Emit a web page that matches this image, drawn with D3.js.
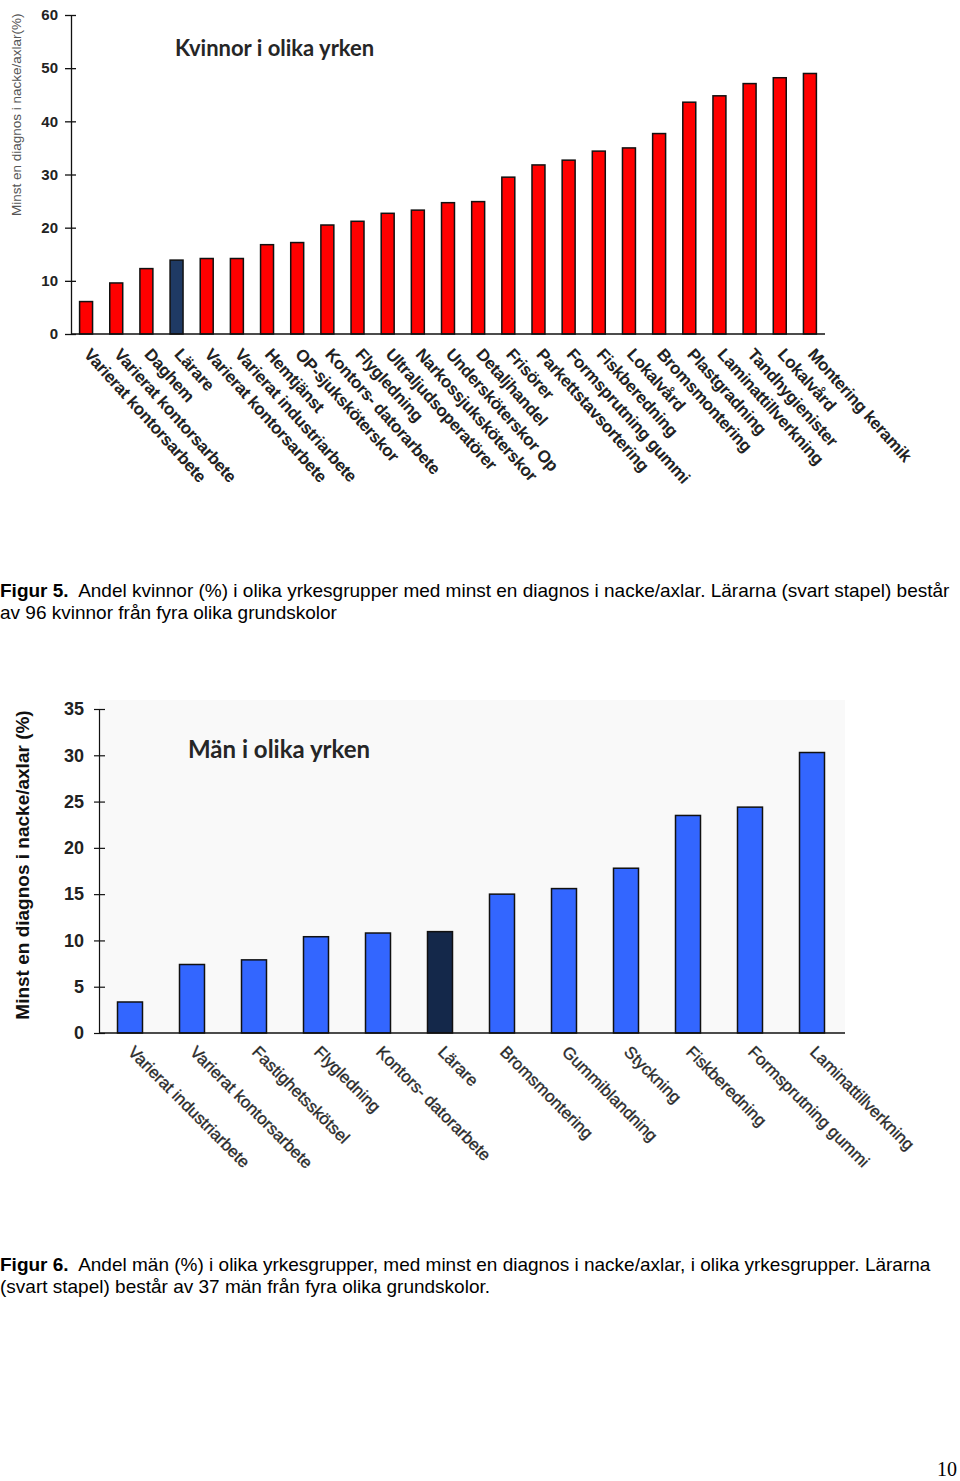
<!DOCTYPE html>
<html><head><meta charset="utf-8">
<script src="https://cdn.jsdelivr.net/npm/d3@7"></script>
<style>body{margin:0;background:#fff;} svg{display:block;}</style>
</head><body>
<svg id="c" width="960" height="1481"></svg>
<script>
// ---------- Data ----------
const womenCategories = ["Varierat kontorsarbete","Varierat kontorsarbete","Daghem","Lärare","Varierat kontorsarbete","Varierat industriarbete","Hemtjänst","OP-sjuksköterskor","Kontors- datorarbete","Flygledning","Ultraljudsoperatörer","Narkossjuksköterskor","Undersköterskor Op","Detaljhandel","Frisörer","Parkettstavsortering","Formsprutning gummi","Fiskberedning","Lokalvård","Bromsmontering","Plastgradning","Laminattillverkning","Tandhygienister","Lokalvård","Montering keramik"];
const womenValues = [6.1,9.6,12.3,13.9,14.2,14.2,16.8,17.2,20.5,21.2,22.7,23.3,24.7,24.9,29.5,31.8,32.7,34.4,35.0,37.7,43.6,44.8,47.1,48.2,49.0];
const womenTicks = [0,10,20,30,40,50,60];
const womenTitle = "Kvinnor i olika yrken";
const womenYLabel = "Minst en diagnos i nacke/axlar(%)";

const menCategories = ["Varierat industriarbete","Varierat kontorsarbete","Fastighetsskötsel","Flygledning","Kontors- datorarbete","Lärare","Bromsmontering","Gummiblandning","Styckning","Fiskberedning","Formsprutning gummi","Laminattillverkning"];
const menValues = [3.35,7.4,7.9,10.4,10.8,10.95,15.0,15.6,17.8,23.5,24.4,30.3];
const menTicks = [0,5,10,15,20,25,30,35];
const menTitle = "Män i olika yrken";
const menYLabel = "Minst en diagnos i nacke/axlar (%)";

const highlightCategory = "Lärare";

const caption5 = ["Figur 5.", "  Andel kvinnor (%) i olika yrkesgrupper med minst en diagnos i nacke/axlar. Lärarna (svart stapel) består", "av 96 kvinnor från fyra olika grundskolor"];
const caption6 = ["Figur 6.", "  Andel män (%) i olika yrkesgrupper, med minst en diagnos i nacke/axlar, i olika yrkesgrupper. Lärarna", "(svart stapel) består av 37 män från fyra olika grundskolor."];
const pageNumber = "10";

// ---------- Drawing ----------
const svg = d3.select("#c");
const SANS = "'Liberation Sans', Arial, sans-serif";

// ===== Chart 1: women =====
(function(){
  const x = d3.scaleBand().domain(d3.range(womenValues.length)).range([71, 825]).paddingInner(0.57).paddingOuter(0.285);
  const y = d3.scaleLinear().domain([0, 60]).range([334, 15]);
  const g = svg.append("g");

  g.selectAll("rect.bar").data(womenValues).join("rect")
    .attr("class","bar")
    .attr("x",(d,i)=>x(i)).attr("width",x.bandwidth())
    .attr("y",d=>y(d)).attr("height",d=>y(0)-y(d))
    .attr("fill",(d,i)=>womenCategories[i]===highlightCategory?"#1f3a64":"#ff0000")
    .attr("stroke","#111").attr("stroke-width",1.5);

  const ax = g.append("g").attr("transform","translate(71,0)")
    .call(d3.axisLeft(y).tickValues(womenTicks).tickSize(6).tickSizeOuter(0).tickPadding(7).tickFormat(d3.format("d")));
  ax.select(".domain").attr("stroke","#111").attr("stroke-width",1.3);
  ax.selectAll(".tick line").attr("x1",5).attr("stroke","#111").attr("stroke-width",1.3);
  ax.selectAll(".tick text").attr("font-family",SANS).attr("font-weight","bold").attr("font-size",15).attr("fill","#222");

  g.append("line").attr("x1",71).attr("x2",825).attr("y1",y(0)).attr("y2",y(0)).attr("stroke","#111").attr("stroke-width",1.5);

  g.selectAll("text.xl").data(womenCategories).join("text")
    .attr("class","xl")
    .attr("transform",(d,i)=>`translate(${x(i)+x.bandwidth()/2-3},355) rotate(48)`)
    .attr("font-family",SANS).attr("font-weight","bold").attr("font-size",17).attr("letter-spacing",-0.35)
    .attr("fill","#222")
    .text(d=>d);

  g.append("text").attr("transform","translate(21,216) rotate(-90)")
    .attr("font-family",SANS).attr("font-size",13.5).attr("fill","#555")
    .text(womenYLabel);

  g.append("text").attr("x",175).attr("y",56)
    .attr("font-family","Lato, 'Open Sans', sans-serif").attr("font-weight","bold").attr("font-size",22).attr("fill","#262626")
    .text(womenTitle);
})();

// ===== Chart 2: men =====
(function(){
  const x = d3.scaleBand().domain(d3.range(menValues.length)).range([99, 843]).paddingInner(0.597).paddingOuter(0.2985);
  const y = d3.scaleLinear().domain([0, 35]).range([1033, 709]);
  const g = svg.append("g");

  g.append("rect").attr("x",99).attr("y",700).attr("width",746).attr("height",333).attr("fill","#f9f9f9");

  g.selectAll("rect.bar").data(menValues).join("rect")
    .attr("class","bar")
    .attr("x",(d,i)=>x(i)).attr("width",x.bandwidth())
    .attr("y",d=>y(d)).attr("height",d=>y(0)-y(d))
    .attr("fill",(d,i)=>menCategories[i]===highlightCategory?"#14284a":"#3366ff")
    .attr("stroke","#111").attr("stroke-width",1.5);

  const ax = g.append("g").attr("transform","translate(99,0)")
    .call(d3.axisLeft(y).tickValues(menTicks).tickSize(5).tickSizeOuter(0).tickPadding(10).tickFormat(d3.format("d")));
  ax.select(".domain").attr("stroke","#111").attr("stroke-width",1.2);
  ax.selectAll(".tick line").attr("x1",6).attr("stroke","#111").attr("stroke-width",1.2);
  ax.selectAll(".tick text").attr("font-family",SANS).attr("font-weight","bold").attr("font-size",18).attr("fill","#222");

  g.append("line").attr("x1",99).attr("x2",845).attr("y1",y(0)).attr("y2",y(0)).attr("stroke","#111").attr("stroke-width",1.5);

  g.selectAll("text.xl").data(menCategories).join("text")
    .attr("class","xl")
    .attr("transform",(d,i)=>`translate(${x(i)+x.bandwidth()/2-3},1053) rotate(45)`)
    .attr("font-family",SANS).attr("font-size",16.8).attr("fill","#222")
    .attr("stroke","#444").attr("stroke-width",0.4)
    .text(d=>d);

  g.append("text").attr("transform","translate(29,865) rotate(-90)")
    .attr("text-anchor","middle")
    .attr("font-family",SANS).attr("font-weight","bold").attr("font-size",19).attr("fill","#111")
    .text(menYLabel);

  g.append("text").attr("x",188).attr("y",758)
    .attr("font-family","Lato, 'Open Sans', sans-serif").attr("font-weight","bold").attr("font-size",24).attr("fill","#262626")
    .text(menTitle);
})();

// ===== Captions =====
function caption(lines, y1, y2){
  const t = svg.append("text").attr("x",0).attr("y",y1).attr("font-family",SANS).attr("font-size",19).attr("fill","#000").style("white-space","pre");
  t.append("tspan").attr("font-weight","bold").text(lines[0]);
  t.append("tspan").text(lines[1]);
  svg.append("text").attr("x",0).attr("y",y2).attr("font-family",SANS).attr("font-size",19).attr("fill","#000").text(lines[2]);
}
caption(caption5, 597, 619);
caption(caption6, 1271, 1293);

svg.append("text").attr("x",957).attr("y",1476).attr("text-anchor","end")
  .attr("font-family","'Liberation Serif', 'Times New Roman', serif").attr("font-size",20).attr("fill","#000")
  .text(pageNumber);
</script>
</body></html>
